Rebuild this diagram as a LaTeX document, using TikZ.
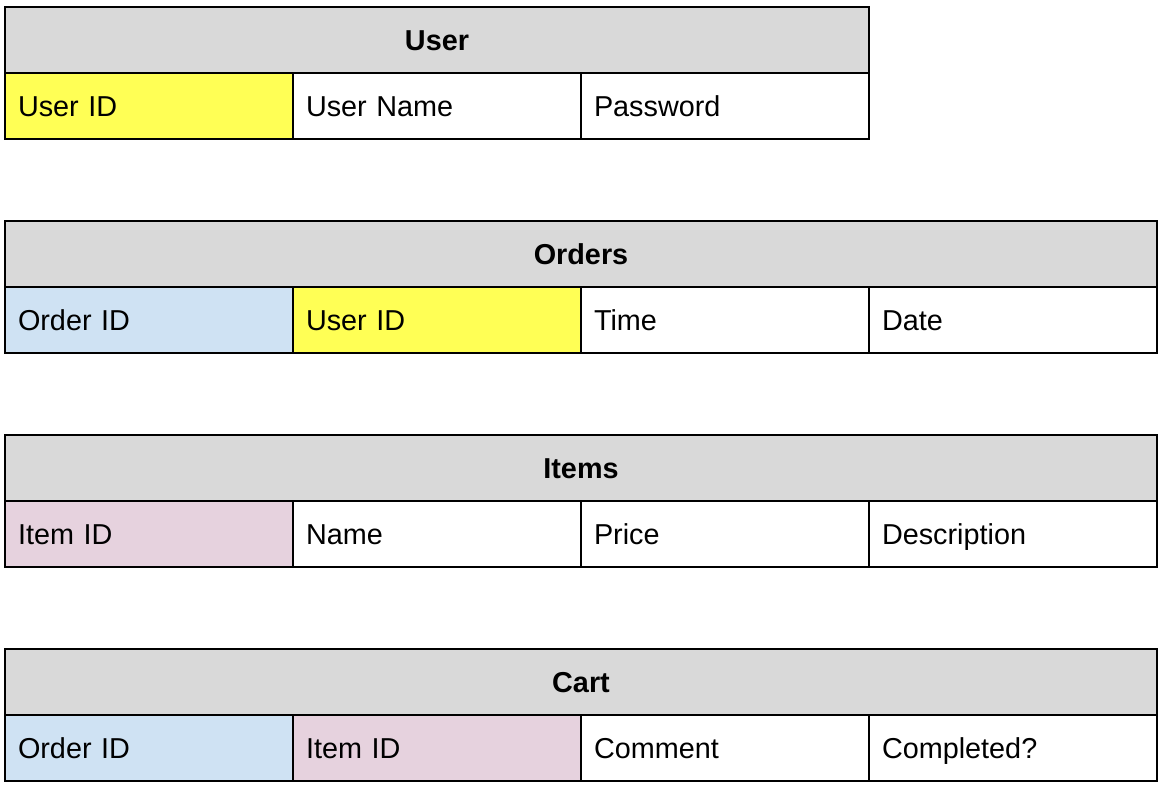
\documentclass[tikz,border=0pt]{standalone}
\usepackage{fontspec}
\setmainfont{Liberation Sans}
\definecolor{hdrgray}{HTML}{D9D9D9}
\definecolor{keyyellow}{HTML}{FFFF55}
\definecolor{keyblue}{HTML}{CFE2F3}
\definecolor{keypink}{HTML}{E6D2DE}
\begin{document}
\begin{tikzpicture}[x=1pt,y=-1pt,
  cell/.style={draw=black, line width=1.5pt, fill=white, minimum height=66pt,
    text width=262pt, inner xsep=13pt, inner ysep=0pt, outer sep=0pt, align=left,
    text height=20.6pt, text depth=0pt,
    anchor=north west, font=\fontsize{28.8}{34}\selectfont},
  hdr/.style={draw=black, line width=1.5pt, fill=hdrgray, minimum height=66pt,
    inner sep=0pt, outer sep=0pt, anchor=north west,
    text height=20.6pt, text depth=0pt,
    font=\fontsize{28.8}{34}\selectfont\bfseries}]
\useasboundingbox (0,0) rectangle (1164,788);
% User
\node[hdr, minimum width=864pt] (userhdr) at (5,7) {User};
\node[cell, fill=keyyellow] (user1) at (5,73) {User ID};
\node[cell] (user2) at (293,73) {User Name};
\node[cell] (user3) at (581,73) {Password};
% Orders
\node[hdr, minimum width=1152pt] (ordhdr) at (5,221) {Orders};
\node[cell, fill=keyblue] (ord1) at (5,287) {Order ID};
\node[cell, fill=keyyellow] (ord2) at (293,287) {User ID};
\node[cell] (ord3) at (581,287) {Time};
\node[cell] (ord4) at (869,287) {Date};
% Items
\node[hdr, minimum width=1152pt] (itmhdr) at (5,435) {Items};
\node[cell, fill=keypink] (itm1) at (5,501) {Item ID};
\node[cell] (itm2) at (293,501) {Name};
\node[cell] (itm3) at (581,501) {Price};
\node[cell] (itm4) at (869,501) {Description};
% Cart
\node[hdr, minimum width=1152pt] (carthdr) at (5,649) {Cart};
\node[cell, fill=keyblue] (cart1) at (5,715) {Order ID};
\node[cell, fill=keypink] (cart2) at (293,715) {Item ID};
\node[cell] (cart3) at (581,715) {Comment};
\node[cell] (cart4) at (869,715) {Completed?};
\end{tikzpicture}
\end{document}
